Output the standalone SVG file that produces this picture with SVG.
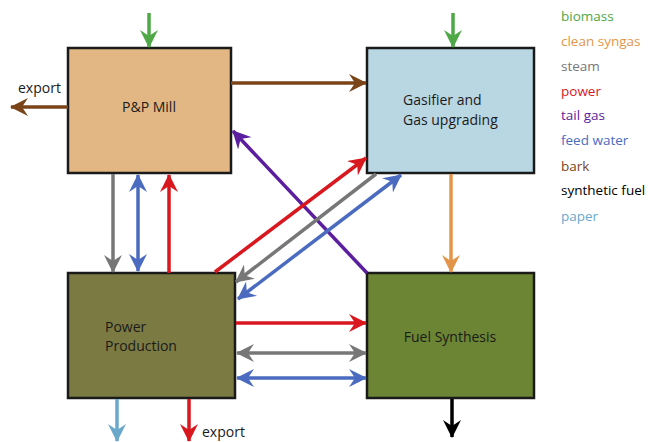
<svg xmlns="http://www.w3.org/2000/svg" width="648" height="442" viewBox="0 0 648 442">
<style>
.box{stroke:#1a1a1a;stroke-width:2.5}
.t{font-family:"Open Sans","Liberation Sans",sans-serif;font-size:14px;fill:#1a1a1a}
.lg{font-family:"Open Sans","Liberation Sans",sans-serif;font-size:13.5px}
.c{fill:none;stroke-width:3.5}
</style>
<defs>
<marker id="mG" viewBox="0 0 18 18" refX="17" refY="9" markerWidth="18" markerHeight="18" markerUnits="userSpaceOnUse" orient="auto-start-reverse"><path d="M0,0 L18,9 L0,18 L6,9 z" fill="#4DA845"/></marker>
<marker id="mO" viewBox="0 0 18 18" refX="17" refY="9" markerWidth="18" markerHeight="18" markerUnits="userSpaceOnUse" orient="auto-start-reverse"><path d="M0,0 L18,9 L0,18 L6,9 z" fill="#E3964A"/></marker>
<marker id="mS" viewBox="0 0 18 18" refX="17" refY="9" markerWidth="18" markerHeight="18" markerUnits="userSpaceOnUse" orient="auto-start-reverse"><path d="M0,0 L18,9 L0,18 L6,9 z" fill="#777777"/></marker>
<marker id="mR" viewBox="0 0 18 18" refX="17" refY="9" markerWidth="18" markerHeight="18" markerUnits="userSpaceOnUse" orient="auto-start-reverse"><path d="M0,0 L18,9 L0,18 L6,9 z" fill="#D9171F"/></marker>
<marker id="mP" viewBox="0 0 18 18" refX="17" refY="9" markerWidth="18" markerHeight="18" markerUnits="userSpaceOnUse" orient="auto-start-reverse"><path d="M0,0 L18,9 L0,18 L6,9 z" fill="#5A1E9E"/></marker>
<marker id="mB" viewBox="0 0 18 18" refX="17" refY="9" markerWidth="18" markerHeight="18" markerUnits="userSpaceOnUse" orient="auto-start-reverse"><path d="M0,0 L18,9 L0,18 L6,9 z" fill="#4A6BBF"/></marker>
<marker id="mK" viewBox="0 0 18 18" refX="17" refY="9" markerWidth="18" markerHeight="18" markerUnits="userSpaceOnUse" orient="auto-start-reverse"><path d="M0,0 L18,9 L0,18 L6,9 z" fill="#7A4418"/></marker>
<marker id="mL" viewBox="0 0 18 18" refX="17" refY="9" markerWidth="18" markerHeight="18" markerUnits="userSpaceOnUse" orient="auto-start-reverse"><path d="M0,0 L18,9 L0,18 L6,9 z" fill="#6AA8CC"/></marker>
<marker id="mX" viewBox="0 0 18 18" refX="17" refY="9" markerWidth="18" markerHeight="18" markerUnits="userSpaceOnUse" orient="auto-start-reverse"><path d="M0,0 L18,9 L0,18 L6,9 z" fill="#000000"/></marker>
</defs>
<rect width="648" height="442" fill="#ffffff"/>
<g id="pp-mill">
<rect class="box" x="68" y="48" width="163" height="125" fill="#E2B784"/>
<text class="t" x="149" y="112" text-anchor="middle">P&amp;P Mill</text>
</g>
<g id="gasifier">
<rect class="box" x="367" y="48" width="167" height="125" fill="#B9D6E3"/>
<text class="t" x="403" y="105">Gasifier and</text>
<text class="t" x="403" y="125">Gas upgrading</text>
</g>
<g id="power-production">
<rect class="box" x="68" y="273" width="167" height="125" fill="#7B7A43"/>
<text class="t" x="105" y="332">Power</text>
<text class="t" x="105" y="351">Production</text>
</g>
<g id="fuel-synthesis">
<rect class="box" x="367" y="273" width="167" height="125" fill="#6B8534"/>
<text class="t" x="450" y="342" text-anchor="middle">Fuel Synthesis</text>
</g>
<g id="connectors">
<line class="c" x1="149" y1="13" x2="149" y2="47" stroke="#4DA845" marker-end="url(#mG)"/>
<line class="c" x1="453" y1="13" x2="453" y2="47" stroke="#4DA845" marker-end="url(#mG)"/>
<line class="c" x1="68" y1="107" x2="11" y2="107" stroke="#7A4418" marker-end="url(#mK)"/>
<line class="c" x1="231" y1="83" x2="366" y2="83" stroke="#7A4418" marker-end="url(#mK)"/>
<line class="c" x1="367" y1="273" x2="233" y2="131" stroke="#5A1E9E" marker-end="url(#mP)"/>
<line class="c" x1="215" y1="272" x2="366" y2="158" stroke="#D9171F" marker-end="url(#mR)"/>
<line class="c" x1="376" y1="174" x2="236" y2="282" stroke="#777777" marker-end="url(#mS)"/>
<line class="c" x1="238" y1="299" x2="401" y2="175" stroke="#4A6BBF" marker-start="url(#mB)" marker-end="url(#mB)"/>
<line class="c" x1="113" y1="174" x2="113" y2="272" stroke="#777777" marker-end="url(#mS)"/>
<line class="c" x1="138" y1="175" x2="138" y2="271" stroke="#4A6BBF" marker-start="url(#mB)" marker-end="url(#mB)"/>
<line class="c" x1="169" y1="273" x2="169" y2="175" stroke="#D9171F" marker-end="url(#mR)"/>
<line class="c" x1="451" y1="174" x2="451" y2="272" stroke="#E3964A" marker-end="url(#mO)"/>
<line class="c" x1="236" y1="323" x2="366" y2="323" stroke="#D9171F" marker-end="url(#mR)"/>
<line class="c" x1="237" y1="353" x2="366" y2="353" stroke="#777777" marker-start="url(#mS)" marker-end="url(#mS)"/>
<line class="c" x1="237" y1="378" x2="366" y2="378" stroke="#4A6BBF" marker-start="url(#mB)" marker-end="url(#mB)"/>
<line class="c" x1="117" y1="399" x2="117" y2="441" stroke="#6AA8CC" marker-end="url(#mL)"/>
<line class="c" x1="189" y1="399" x2="189" y2="441" stroke="#D9171F" marker-end="url(#mR)"/>
<line class="c" x1="452" y1="399" x2="452" y2="437" stroke="#000000" marker-end="url(#mX)"/>
</g>
<text class="t" x="18" y="93">export</text>
<text class="t" x="202" y="437">export</text>
<g id="legend">
<text class="lg" x="561" y="21" fill="#4DA845">biomass</text>
<text class="lg" x="561" y="46" fill="#E3964A">clean syngas</text>
<text class="lg" x="561" y="71" fill="#777777">steam</text>
<text class="lg" x="561" y="96" fill="#D9171F">power</text>
<text class="lg" x="561" y="120" fill="#5A1E9E">tail gas</text>
<text class="lg" x="561" y="145" fill="#4A6BBF">feed water</text>
<text class="lg" x="561" y="171" fill="#7A4418">bark</text>
<text class="lg" x="561" y="195" fill="#000000">synthetic fuel</text>
<text class="lg" x="561" y="221" fill="#6AA8CC">paper</text>
</g>
</svg>
